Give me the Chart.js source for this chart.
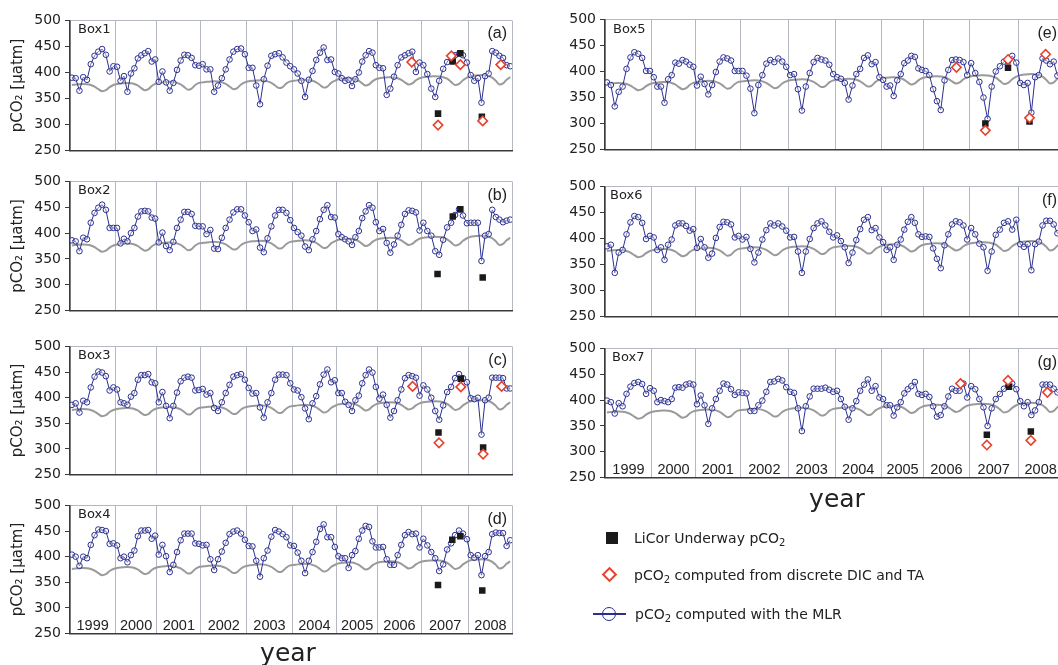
<!DOCTYPE html>
<html>
<head>
<meta charset="utf-8">
<script src="https://cdn.jsdelivr.net/npm/chart.js@4.4.0/dist/chart.umd.min.js"></script>
<style>
  body { margin: 0; background: #fff; width: 1058px; height: 665px; overflow: hidden; position: relative; font-family: "DejaVu Sans", sans-serif; color: #222; }
  canvas { position: absolute; }
  .box { position: absolute; font-size: 13px; line-height: 13px; }
  .tag { position: absolute; font-family: "Liberation Sans", sans-serif; font-size: 16px; line-height: 16px; text-align: right; width: 40px; }
  .year { position: absolute; font-size: 25px; line-height: 25px; width: 200px; text-align: center; }
  .leg { position: absolute; font-size: 14px; line-height: 16px; left: 634px; }
  .leg sub { font-size: 10px; vertical-align: -3px; line-height: 0; }
  .mk { position: absolute; box-sizing: border-box; }
</style>
</head>
<body>
<canvas id="c1" width="522" height="155" style="left:0;top:8px"></canvas>
<canvas id="c2" width="522" height="154" style="left:0;top:169px"></canvas>
<canvas id="c3" width="522" height="153" style="left:0;top:334px"></canvas>
<canvas id="c4" width="522" height="153" style="left:0;top:493px"></canvas>
<canvas id="c5" width="533" height="155" style="left:540px;top:7px"></canvas>
<canvas id="c6" width="533" height="155" style="left:540px;top:174px"></canvas>
<canvas id="c7" width="533" height="154" style="left:540px;top:336px"></canvas>

<div class="box" style="left:78px;top:22px">Box1</div>
<div class="box" style="left:78px;top:183px">Box2</div>
<div class="box" style="left:78px;top:348px">Box3</div>
<div class="box" style="left:78px;top:507px">Box4</div>
<div class="box" style="left:613px;top:22px">Box5</div>
<div class="box" style="left:610px;top:188px">Box6</div>
<div class="box" style="left:612px;top:350px">Box7</div>

<div class="tag" style="left:467px;top:25px">(a)</div>
<div class="tag" style="left:467px;top:187px">(b)</div>
<div class="tag" style="left:467px;top:352px">(c)</div>
<div class="tag" style="left:467px;top:511px">(d)</div>
<div class="tag" style="left:1017px;top:25px">(e)</div>
<div class="tag" style="left:1017px;top:192px">(f)</div>
<div class="tag" style="left:1017px;top:354px">(g)</div>

<div class="year" style="left:188px;top:640px">year</div>
<div class="year" style="left:737px;top:486px">year</div>

<div class="mk" style="left:606px;top:532px;width:12px;height:12px;background:#1a1a1a"></div>
<div class="leg" style="top:530px">LiCor Underway pCO<sub>2</sub></div>
<div class="mk" style="left:604px;top:569px;width:11px;height:11px;border:2px solid #e8412c;transform:rotate(45deg)"></div>
<div class="leg" style="top:567px">pCO<sub>2</sub> computed from discrete DIC and TA</div>
<div class="mk" style="left:593px;top:613px;width:33px;height:1.5px;background:#2b2f8f"></div>
<div class="mk" style="left:602px;top:607px;width:14px;height:14px;border:1.5px solid #2b2f8f;border-radius:50%"></div>
<div class="leg" style="top:606px;left:635px">pCO<sub>2</sub> computed with the MLR</div>

<script>
// x axis: sample index, years start at these index values
var years = ['1999', '2000', '2001', '2002', '2003', '2004', '2005', '2006', '2007', '2008'];
var yearStart = [0, 12.3, 23.6, 35.5, 48, 60.3, 72.4, 83.5, 95.4, 108.3, 120];
var yTicks = [250, 300, 350, 400, 450, 500];

// atmospheric pCO2 (grey line), 12 per year
var atm = [
  376, 377, 377.5, 378, 377.5, 376, 373, 368, 364, 366, 372, 376,
  378, 379, 379.5, 380, 379.5, 378, 375, 370, 366, 368, 374, 378,
  380, 381, 381.5, 382, 381.5, 380, 377, 372, 367, 369, 376, 380,
  381, 382, 382.5, 383, 382.5, 381, 378, 373, 368, 370, 377, 381,
  383, 384, 384.5, 385, 384.5, 383, 380, 375, 370, 372, 379, 383,
  384, 385, 385.5, 386, 385.5, 384, 381, 376, 371, 373, 380, 384,
  387, 388, 388.5, 389, 388.5, 387, 384, 379, 375, 377, 383, 387,
  389, 390, 390.5, 391, 390.5, 389, 386, 381, 377, 379, 385, 389,
  391, 392, 392.5, 393, 392.5, 391, 388, 382, 376, 378, 385, 390,
  393, 394, 394.5, 395, 394.5, 393, 390, 384, 377, 379, 386, 391
];

// pCO2 computed with the MLR, 12 per year
var mlrBox1 = [
  390, 389, 365, 391, 386, 416, 432, 440, 445, 434, 402, 412,
  411, 384, 393, 363, 398, 408, 427, 433, 437, 441, 421, 425,
  382, 402, 381, 365, 380, 405, 423, 434, 433, 428, 414, 413,
  416, 406, 406, 363, 375, 389, 406, 425, 440, 445, 446, 435,
  409, 409, 375, 339, 387, 413, 432, 435, 437, 429, 419, 412,
  406, 398, 384, 353, 386, 403, 424, 438, 448, 424, 425, 401,
  398, 389, 384, 386, 374, 387, 400, 421, 433, 441, 438, 414,
  409, 408, 357, 369, 392, 414, 429, 433, 437, 440, 401, 419,
  414, 397, 369, 353, 384, 407, 420, 432, 433, 436, 433, 419,
  395, 384, 389, 342, 393, 398, 441, 438, 432, 428, 414, 412
];
var mlrBox2 = [
  386, 384, 365, 391, 388, 420, 439, 449, 455, 445, 410, 410,
  410, 380, 389, 384, 400, 410, 432, 442, 443, 442, 430, 428,
  382, 401, 375, 367, 383, 410, 426, 441, 441, 437, 414, 413,
  413, 398, 406, 370, 369, 391, 410, 426, 440, 446, 446, 434,
  421, 404, 407, 372, 363, 390, 413, 434, 445, 445, 439, 425,
  410, 402, 395, 374, 367, 388, 404, 427, 445, 454, 431, 430,
  398, 392, 388, 384, 377, 392, 404, 429, 442, 454, 449, 421,
  404, 408, 381, 362, 378, 395, 416, 437, 444, 443, 440, 405,
  420, 404, 395, 365, 358, 387, 411, 420, 435, 446, 434, 419,
  420, 420, 420, 346, 395, 398, 445, 431, 426, 421, 424, 426
];
var mlrBox3 = [
  386, 389, 371, 394, 391, 420, 441, 451, 449, 442, 414, 420,
  416, 391, 389, 386, 402, 409, 435, 444, 444, 446, 430, 428,
  391, 411, 384, 360, 384, 410, 432, 439, 441, 439, 414, 415,
  417, 406, 409, 380, 374, 391, 409, 425, 441, 444, 446, 435,
  419, 408, 409, 381, 361, 391, 409, 435, 445, 445, 444, 428,
  416, 414, 401, 379, 358, 389, 403, 426, 445, 455, 430, 434,
  409, 409, 392, 386, 374, 395, 404, 428, 444, 455, 449, 421,
  398, 406, 386, 361, 374, 395, 416, 438, 444, 442, 439, 404,
  424, 416, 400, 374, 357, 385, 411, 421, 438, 446, 438, 430,
  399, 397, 400, 328, 395, 400, 439, 439, 439, 438, 418, 418
];
var mlrBox4 = [
  404, 400, 382, 400, 397, 423, 442, 453, 452, 450, 425, 426,
  422, 397, 400, 389, 403, 412, 440, 451, 451, 452, 435, 441,
  404, 423, 401, 370, 384, 409, 432, 445, 445, 445, 426, 425,
  422, 423, 395, 374, 395, 410, 427, 444, 449, 451, 445, 433,
  421, 420, 392, 361, 397, 412, 439, 452, 449, 444, 438, 422,
  421, 408, 392, 368, 392, 409, 429, 454, 463, 438, 438, 419,
  401, 397, 397, 378, 403, 411, 435, 451, 460, 458, 430, 418,
  418, 419, 395, 384, 384, 403, 423, 442, 448, 444, 445, 418,
  435, 422, 409, 397, 372, 385, 414, 426, 442, 451, 445, 434,
  403, 398, 403, 364, 401, 409, 444, 447, 446, 446, 421, 432
];
var mlrBox5 = [
  379, 374, 333, 361, 371, 405, 427, 437, 434, 426, 401, 401,
  389, 371, 371, 340, 385, 393, 417, 415, 422, 419, 413, 409,
  373, 390, 376, 356, 374, 399, 419, 427, 425, 421, 401, 401,
  401, 392, 367, 320, 374, 393, 415, 422, 418, 425, 419, 409,
  393, 395, 366, 325, 371, 397, 418, 426, 423, 421, 413, 395,
  389, 386, 378, 346, 373, 395, 405, 426, 431, 414, 418, 389,
  384, 371, 373, 353, 383, 395, 416, 421, 430, 428, 406, 403,
  401, 393, 366, 343, 326, 383, 403, 422, 423, 422, 418, 393,
  416, 397, 380, 350, 309, 371, 400, 410, 419, 419, 430, 417,
  378, 374, 378, 321, 389, 393, 425, 421, 414, 419, 392, 405
];
var mlrBox6 = [
  385, 388, 334, 373, 378, 408, 431, 443, 441, 430, 399, 405,
  402, 378, 383, 359, 388, 398, 425, 429, 429, 424, 415, 418,
  382, 399, 383, 363, 371, 401, 422, 432, 431, 427, 402, 405,
  398, 403, 380, 354, 373, 398, 416, 429, 425, 429, 423, 415,
  402, 403, 375, 334, 375, 399, 420, 429, 433, 425, 413, 402,
  406, 395, 383, 353, 373, 397, 418, 436, 441, 416, 420, 402,
  393, 378, 383, 359, 388, 398, 417, 432, 441, 430, 408, 403,
  404, 403, 381, 361, 343, 387, 408, 427, 433, 431, 425, 398,
  420, 408, 390, 383, 338, 375, 407, 417, 430, 433, 417, 436,
  389, 384, 389, 339, 389, 394, 425, 434, 434, 427, 410, 415
];
var mlrBox7 = [
  399, 396, 374, 394, 388, 412, 426, 433, 435, 431, 412, 423,
  418, 396, 400, 398, 396, 402, 424, 425, 424, 430, 432, 430,
  392, 409, 390, 354, 384, 402, 418, 432, 430, 421, 410, 415,
  414, 413, 379, 379, 390, 399, 416, 435, 436, 441, 438, 425,
  416, 414, 384, 340, 388, 407, 422, 422, 422, 424, 420, 416,
  418, 402, 387, 362, 384, 398, 418, 430, 440, 418, 427, 405,
  402, 390, 390, 370, 386, 396, 413, 421, 427, 435, 412, 410,
  412, 406, 388, 368, 371, 388, 407, 422, 418, 418, 432, 405,
  427, 421, 402, 386, 350, 384, 402, 412, 422, 427, 432, 421,
  398, 388, 396, 371, 380, 396, 430, 430, 430, 422, 415, 418
];

// LiCor underway pCO2 (decimal year, value)
var licorTime1 = [2007.35, 2007.66, 2007.82, 2008.30];
var licorBox1 = [321, 421, 437, 315];
var licorTime2 = [2007.34, 2007.66, 2007.82, 2008.32];
var licorBox2 = [321, 432, 446, 314];
var licorTime3 = [2007.36, 2007.83, 2008.33];
var licorBox3 = [332, 437, 303];
var licorTime4 = [2007.35, 2007.65, 2007.82, 2008.31];
var licorBox4 = [345, 433, 440, 334];
var licorTime5 = [2007.33, 2007.79, 2008.25];
var licorBox5 = [300, 407, 304];
var licorTime7 = [2007.36, 2007.81, 2008.28];
var licorBox7 = [333, 426, 339];

// pCO2 from discrete DIC and TA (decimal year, value)
var dicTime1 = [2006.78, 2007.35, 2007.63, 2007.82, 2008.32, 2008.74];
var dicBox1 = [420, 299, 432, 415, 307, 415];
var dicTime3 = [2006.80, 2007.37, 2007.83, 2008.33, 2008.76];
var dicBox3 = [422, 312, 421, 290, 422];
var dicTime5 = [2006.72, 2007.33, 2007.79, 2008.25, 2008.61];
var dicBox5 = [408, 287, 423, 311, 433];
var dicTime7 = [2006.81, 2007.36, 2007.79, 2008.28, 2008.65];
var dicBox7 = [432, 313, 438, 322, 415];

var navy = '#2b2f8f';
var gridGrey = '#b3b8c2';
var axisDark = '#3a3a3a';

function toAxis(t) {
    var i = Math.min(Math.floor(t) - 1999, 9);
    var f = t - (1999 + i);
    return yearStart[i] + f * (yearStart[i + 1] - yearStart[i]);
}

function monthly(values) {
    return values.map(function (v, i) {
        return { x: toAxis(1999 + Math.floor(i / 12) + (i % 12 + 0.5) / 12), y: v };
    });
}

function samples(times, values) {
    return times.map(function (t, i) { return { x: toAxis(t), y: values[i] }; });
}

// year names written inside the bottom of the plot
var yearLabels = {
    id: 'yearLabels',
    afterDraw: function (chart, args, opts) {
        if (!opts.show) return;
        var ctx = chart.ctx, xs = chart.scales.x, area = chart.chartArea;
        ctx.save();
        ctx.font = '14.5px "Liberation Sans", Arial, sans-serif';
        ctx.fillStyle = '#222';
        ctx.textAlign = 'center';
        ctx.textBaseline = 'alphabetic';
        for (var i = 0; i < years.length; i++) {
            var mid = (xs.getPixelForValue(yearStart[i]) + xs.getPixelForValue(yearStart[i + 1])) / 2;
            ctx.fillText(years[i], mid, area.bottom - 4);
        }
        ctx.restore();
    }
};

function makePanel(id, mlr, licor, dic, left, showYears) {
    var datasets = [];
    if (dic) {
        datasets.push({
            data: dic, order: 1, showLine: false,
            pointStyle: 'rectRot', pointRadius: 4.7, pointBorderWidth: 1.6,
            pointBorderColor: '#e8412c', pointBackgroundColor: '#fff'
        });
    }
    if (licor) {
        datasets.push({
            data: licor, order: 2, showLine: false,
            pointStyle: 'rect', pointRadius: 4.6, pointBorderWidth: 0,
            pointBackgroundColor: '#1a1a1a', pointBorderColor: '#1a1a1a'
        });
    }
    datasets.push({
        data: mlr, order: 3, showLine: true,
        borderColor: navy, borderWidth: 1,
        pointRadius: 2.8, pointBorderWidth: 1,
        pointBorderColor: navy, pointBackgroundColor: 'rgba(255,255,255,0.35)'
    });
    datasets.push({
        data: monthly(atm), order: 4, showLine: true,
        borderColor: '#9a9a9a', borderWidth: 2, cubicInterpolationMode: 'monotone', pointRadius: 0
    });

    new Chart(document.getElementById(id).getContext('2d'), {
        type: 'scatter',
        data: { datasets: datasets },
        options: {
            responsive: false,
            animation: false,
            layout: { padding: { top: 10, bottom: 10, left: left ? 9 : 0, right: 10 } },
            plugins: { legend: { display: false }, tooltip: { enabled: false }, yearLabels: { show: showYears } },
            scales: {
                x: {
                    type: 'linear', min: 0, max: 120,
                    afterBuildTicks: function (s) { s.ticks = yearStart.map(function (v) { return { value: v }; }); },
                    ticks: { display: false },
                    grid: { color: gridGrey, lineWidth: 1, drawTicks: false },
                    border: { color: axisDark, width: 1.5 },
                    afterFit: function (s) { s.height = 0; }
                },
                y: {
                    min: 250, max: 500,
                    afterBuildTicks: function (s) { s.ticks = yTicks.map(function (v) { return { value: v }; }); },
                    ticks: { font: { family: 'DejaVu Sans', size: 14 }, color: '#222', padding: 4 },
                    grid: {
                        color: function (c) { return c.tick && c.tick.value === 500 ? gridGrey : 'rgba(0,0,0,0)'; },
                        tickColor: axisDark, tickLength: 5
                    },
                    border: { color: axisDark, width: 1.5 },
                    title: {
                        display: left, text: 'pCO₂ [µatm]', color: '#222',
                        font: { family: 'DejaVu Sans', size: 15 }, padding: 0
                    },
                    afterFit: function (s) { s.width = left ? 61 : 65; }
                }
            }
        },
        plugins: [yearLabels]
    });
}

makePanel('c1', monthly(mlrBox1), samples(licorTime1, licorBox1), samples(dicTime1, dicBox1), true, false);
makePanel('c2', monthly(mlrBox2), samples(licorTime2, licorBox2), null, true, false);
makePanel('c3', monthly(mlrBox3), samples(licorTime3, licorBox3), samples(dicTime3, dicBox3), true, false);
makePanel('c4', monthly(mlrBox4), samples(licorTime4, licorBox4), null, true, true);
makePanel('c5', monthly(mlrBox5), samples(licorTime5, licorBox5), samples(dicTime5, dicBox5), false, false);
makePanel('c6', monthly(mlrBox6), null, null, false, false);
makePanel('c7', monthly(mlrBox7), samples(licorTime7, licorBox7), samples(dicTime7, dicBox7), false, true);
</script>
</body>
</html>
